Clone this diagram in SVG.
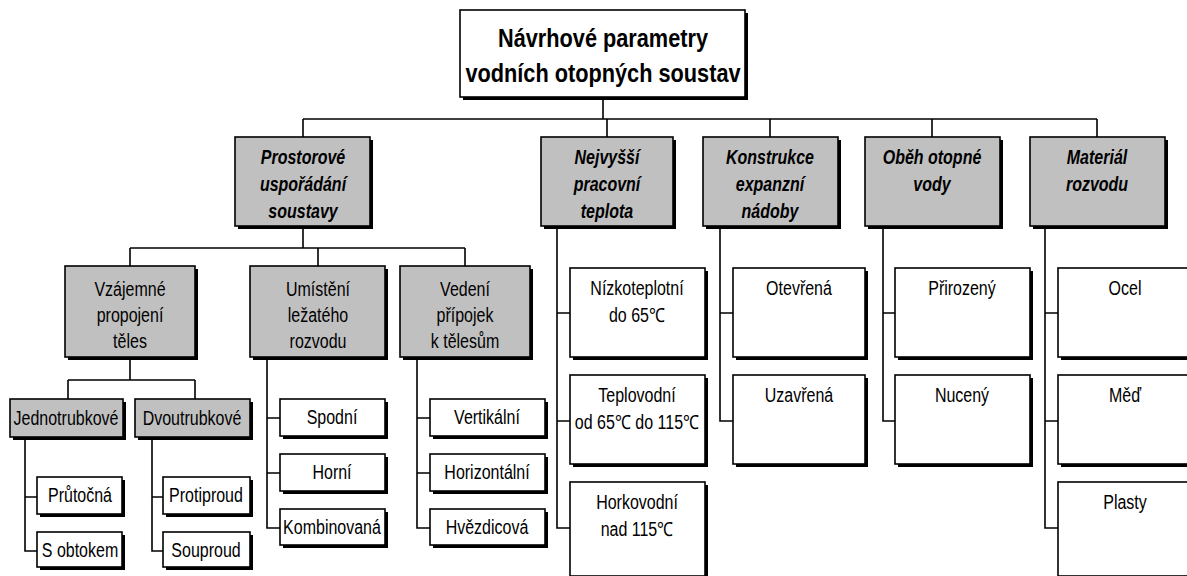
<svg xmlns="http://www.w3.org/2000/svg" width="1187" height="576" viewBox="0 0 1187 576">
<style>
.sh{fill:#000}
.bw{fill:#fff;stroke:#000;stroke-width:1.6}
.bg{fill:#c0c0c0;stroke:#000;stroke-width:1.6}
.c{fill:none;stroke:#000;stroke-width:1.6}
text{font-family:"Liberation Sans",Arial,sans-serif;text-anchor:middle;fill:#000}
.t{font-size:19.5px}
.h{font-size:19.5px;font-weight:bold;font-style:italic}
.ti{font-size:26.5px;font-weight:bold}
</style>
<rect width="1187" height="576" fill="#fff"/>
<g id="connectors">
<path class="c" d="M603 97V119M303 119H1097M303 119V137M607 119V137M770 119V137M932 119V137M1097 119V137"/>
<path class="c" d="M303 226V248M130 248H465M130 248V266M318 248V266M465 248V266"/>
<path class="c" d="M130 357V380M68 380H195M68 380V400M195 380V400"/>
<path class="c" d="M25 437V551H37M25 497H37M152 437V551H163M152 497H163"/>
<path class="c" d="M267 357V528H280M267 418H280M267 473H280M417 357V528H430M417 418H430M417 473H430"/>
<path class="c" d="M557 226V528H570M557 313H570M557 421H570"/>
<path class="c" d="M720 226V421H733M720 313H733"/>
<path class="c" d="M883 226V421H895M883 313H895"/>
<path class="c" d="M1045 226V528H1058M1045 313H1058M1045 421H1058"/>
</g>
<g id="root"><rect class="sh" x="463" y="13" width="285" height="87"/><rect class="bw" x="460" y="10" width="285" height="87"/><text class="ti" transform="translate(603 47) scale(.82 1)">Návrhové parametry</text><text class="ti" transform="translate(603 82) scale(.82 1)">vodních otopných soustav</text></g>
<g id="prostorove"><rect class="sh" x="238" y="140" width="135" height="89"/><rect class="bg" x="235" y="137" width="135" height="89"/><text class="h" transform="translate(303 164) scale(.82 1)">Prostorové</text><text class="h" transform="translate(303 191) scale(.82 1)">uspořádání</text><text class="h" transform="translate(303 218) scale(.82 1)">soustavy</text></g>
<g id="nejvyssi"><rect class="sh" x="544" y="140" width="132" height="89"/><rect class="bg" x="541" y="137" width="132" height="89"/><text class="h" transform="translate(607 164) scale(.82 1)">Nejvyšší</text><text class="h" transform="translate(607 191) scale(.82 1)">pracovní</text><text class="h" transform="translate(607 218) scale(.82 1)">teplota</text></g>
<g id="konstrukce"><rect class="sh" x="706" y="140" width="135" height="89"/><rect class="bg" x="703" y="137" width="135" height="89"/><text class="h" transform="translate(770 164) scale(.82 1)">Konstrukce</text><text class="h" transform="translate(770 191) scale(.82 1)">expanzní</text><text class="h" transform="translate(770 218) scale(.82 1)">nádoby</text></g>
<g id="obeh"><rect class="sh" x="868" y="140" width="135" height="89"/><rect class="bg" x="865" y="137" width="135" height="89"/><text class="h" transform="translate(932 164) scale(.82 1)">Oběh otopné</text><text class="h" transform="translate(932 191) scale(.82 1)">vody</text></g>
<g id="material"><rect class="sh" x="1033" y="140" width="135" height="89"/><rect class="bg" x="1030" y="137" width="135" height="89"/><text class="h" transform="translate(1097 164) scale(.82 1)">Materiál</text><text class="h" transform="translate(1097 191) scale(.82 1)">rozvodu</text></g>
<g id="vzajemne"><rect class="sh" x="68" y="269" width="130" height="91"/><rect class="bg" x="65" y="266" width="130" height="91"/><text class="t" transform="translate(130 296) scale(.82 1)">Vzájemné</text><text class="t" transform="translate(130 322) scale(.82 1)">propojení</text><text class="t" transform="translate(130 348) scale(.82 1)">těles</text></g>
<g id="umisteni"><rect class="sh" x="253" y="269" width="135" height="91"/><rect class="bg" x="250" y="266" width="135" height="91"/><text class="t" transform="translate(318 296) scale(.82 1)">Umístění</text><text class="t" transform="translate(318 322) scale(.82 1)">ležatého</text><text class="t" transform="translate(318 348) scale(.82 1)">rozvodu</text></g>
<g id="vedeni"><rect class="sh" x="403" y="269" width="130" height="91"/><rect class="bg" x="400" y="266" width="130" height="91"/><text class="t" transform="translate(465 296) scale(.82 1)">Vedení</text><text class="t" transform="translate(465 322) scale(.82 1)">přípojek</text><text class="t" transform="translate(465 348) scale(.82 1)">k tělesům</text></g>
<g id="jednotrubkove"><rect class="sh" x="13" y="402" width="113" height="38"/><rect class="bg" x="10" y="399" width="113" height="38"/><text class="t" transform="translate(66 425) scale(.82 1)">Jednotrubkové</text></g>
<g id="dvoutrubkove"><rect class="sh" x="138" y="402" width="115" height="38"/><rect class="bg" x="135" y="399" width="115" height="38"/><text class="t" transform="translate(192 425) scale(.82 1)">Dvoutrubkové</text></g>
<g id="prutocna"><rect class="sh" x="40" y="480" width="85" height="37"/><rect class="bw" x="37" y="477" width="85" height="37"/><text class="t" transform="translate(80 502) scale(.82 1)">Průtočná</text></g>
<g id="sobtokem"><rect class="sh" x="40" y="535" width="85" height="35"/><rect class="bw" x="37" y="532" width="85" height="35"/><text class="t" transform="translate(80 557) scale(.82 1)">S obtokem</text></g>
<g id="protiproud"><rect class="sh" x="166" y="480" width="87" height="37"/><rect class="bw" x="163" y="477" width="87" height="37"/><text class="t" transform="translate(206 502) scale(.82 1)">Protiproud</text></g>
<g id="souproud"><rect class="sh" x="166" y="535" width="87" height="35"/><rect class="bw" x="163" y="532" width="87" height="35"/><text class="t" transform="translate(206 557) scale(.82 1)">Souproud</text></g>
<g id="spodni"><rect class="sh" x="283" y="402" width="105" height="37"/><rect class="bw" x="280" y="399" width="105" height="37"/><text class="t" transform="translate(332 424) scale(.82 1)">Spodní</text></g>
<g id="horni"><rect class="sh" x="283" y="457" width="105" height="37"/><rect class="bw" x="280" y="454" width="105" height="37"/><text class="t" transform="translate(332 479) scale(.82 1)">Horní</text></g>
<g id="kombinovana"><rect class="sh" x="283" y="512" width="105" height="36"/><rect class="bw" x="280" y="509" width="105" height="36"/><text class="t" transform="translate(332 534) scale(.82 1)">Kombinovaná</text></g>
<g id="vertikalni"><rect class="sh" x="433" y="402" width="115" height="37"/><rect class="bw" x="430" y="399" width="115" height="37"/><text class="t" transform="translate(487 424) scale(.82 1)">Vertikální</text></g>
<g id="horizontalni"><rect class="sh" x="433" y="457" width="115" height="37"/><rect class="bw" x="430" y="454" width="115" height="37"/><text class="t" transform="translate(487 479) scale(.82 1)">Horizontální</text></g>
<g id="hvezdicova"><rect class="sh" x="433" y="512" width="115" height="36"/><rect class="bw" x="430" y="509" width="115" height="36"/><text class="t" transform="translate(487 534) scale(.82 1)">Hvězdicová</text></g>
<g id="nizkoteplotni"><rect class="sh" x="573" y="271" width="135" height="89"/><rect class="bw" x="570" y="268" width="135" height="89"/><text class="t" transform="translate(637 295) scale(.82 1)">Nízkoteplotní</text><text class="t" transform="translate(637 322) scale(.82 1)">do 65℃</text></g>
<g id="teplovodni"><rect class="sh" x="573" y="378" width="135" height="89"/><rect class="bw" x="570" y="375" width="135" height="89"/><text class="t" transform="translate(637 402) scale(.82 1)">Teplovodní</text><text class="t" transform="translate(637 429) scale(.82 1)">od 65℃ do 115℃</text></g>
<g id="horkovodni"><rect class="sh" x="573" y="485" width="135" height="94"/><rect class="bw" x="570" y="482" width="135" height="94"/><text class="t" transform="translate(637 509) scale(.82 1)">Horkovodní</text><text class="t" transform="translate(637 536) scale(.82 1)">nad 115℃</text></g>
<g id="otevrena"><rect class="sh" x="736" y="271" width="132" height="89"/><rect class="bw" x="733" y="268" width="132" height="89"/><text class="t" transform="translate(799 295) scale(.82 1)">Otevřená</text></g>
<g id="uzavrena"><rect class="sh" x="736" y="378" width="132" height="89"/><rect class="bw" x="733" y="375" width="132" height="89"/><text class="t" transform="translate(799 402) scale(.82 1)">Uzavřená</text></g>
<g id="prirozeny"><rect class="sh" x="898" y="271" width="135" height="89"/><rect class="bw" x="895" y="268" width="135" height="89"/><text class="t" transform="translate(962 295) scale(.82 1)">Přirozený</text></g>
<g id="nuceny"><rect class="sh" x="898" y="378" width="135" height="89"/><rect class="bw" x="895" y="375" width="135" height="89"/><text class="t" transform="translate(962 402) scale(.82 1)">Nucený</text></g>
<g id="ocel"><rect class="sh" x="1061" y="271" width="135" height="89"/><rect class="bw" x="1058" y="268" width="135" height="89"/><text class="t" transform="translate(1125 295) scale(.82 1)">Ocel</text></g>
<g id="med"><rect class="sh" x="1061" y="378" width="135" height="89"/><rect class="bw" x="1058" y="375" width="135" height="89"/><text class="t" transform="translate(1125 402) scale(.82 1)">Měď</text></g>
<g id="plasty"><rect class="sh" x="1061" y="485" width="135" height="94"/><rect class="bw" x="1058" y="482" width="135" height="94"/><text class="t" transform="translate(1125 509) scale(.82 1)">Plasty</text></g>
</svg>
